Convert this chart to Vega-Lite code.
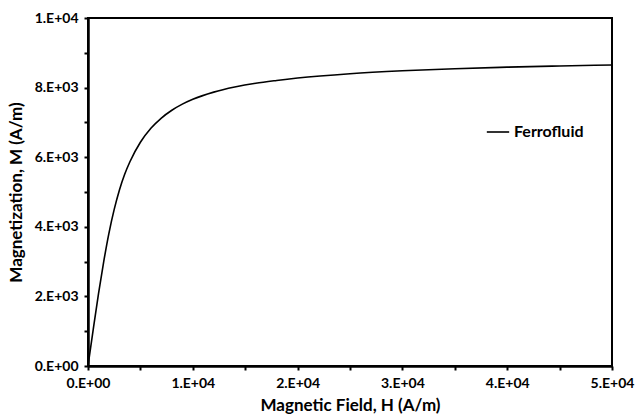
{
  "$schema": "https://vega.github.io/schema/vega-lite/v6.json",
  "width": 524,
  "height": 348,
  "autosize": "none",
  "padding": {"left": 88, "top": 18, "right": 28, "bottom": 54},
  "background": "white",
  "data": {
    "values": [
      {"H": 0, "M": 0, "series": "Ferrofluid"},
      {"H": 250, "M": 529, "series": "Ferrofluid"},
      {"H": 500, "M": 1052, "series": "Ferrofluid"},
      {"H": 1000, "M": 2070, "series": "Ferrofluid"},
      {"H": 1500, "M": 3000, "series": "Ferrofluid"},
      {"H": 2000, "M": 3820, "series": "Ferrofluid"},
      {"H": 2500, "M": 4500, "series": "Ferrofluid"},
      {"H": 3000, "M": 5060, "series": "Ferrofluid"},
      {"H": 3500, "M": 5510, "series": "Ferrofluid"},
      {"H": 4000, "M": 5870, "series": "Ferrofluid"},
      {"H": 5000, "M": 6430, "series": "Ferrofluid"},
      {"H": 6000, "M": 6830, "series": "Ferrofluid"},
      {"H": 7000, "M": 7125, "series": "Ferrofluid"},
      {"H": 8000, "M": 7350, "series": "Ferrofluid"},
      {"H": 9000, "M": 7525, "series": "Ferrofluid"},
      {"H": 10000, "M": 7665, "series": "Ferrofluid"},
      {"H": 12000, "M": 7870, "series": "Ferrofluid"},
      {"H": 14000, "M": 8015, "series": "Ferrofluid"},
      {"H": 16000, "M": 8125, "series": "Ferrofluid"},
      {"H": 18000, "M": 8206, "series": "Ferrofluid"},
      {"H": 20000, "M": 8276, "series": "Ferrofluid"},
      {"H": 25000, "M": 8400, "series": "Ferrofluid"},
      {"H": 30000, "M": 8483, "series": "Ferrofluid"},
      {"H": 35000, "M": 8543, "series": "Ferrofluid"},
      {"H": 40000, "M": 8587, "series": "Ferrofluid"},
      {"H": 45000, "M": 8622, "series": "Ferrofluid"},
      {"H": 50000, "M": 8650, "series": "Ferrofluid"}
    ]
  },
  "mark": {"type": "line", "strokeWidth": 1.6, "interpolate": "monotone"},
  "encoding": {
    "x": {
      "field": "H",
      "type": "quantitative",
      "scale": {"domain": [0, 50000], "nice": false},
      "axis": {
        "title": "Magnetic Field, H (A/m)",
        "values": [0, 5000, 10000, 15000, 20000, 25000, 30000, 35000, 40000, 45000, 50000],
        "labelExpr": "datum.value % 10000 != 0 ? '' : datum.value == 0 ? '0.E+00' : (datum.value / 10000) + '.E+04'",
        "labelFlush": false,
        "titlePadding": 7
      }
    },
    "y": {
      "field": "M",
      "type": "quantitative",
      "scale": {"domain": [0, 10000], "nice": false},
      "axis": {
        "title": "Magnetization, M (A/m)",
        "values": [0, 1000, 2000, 3000, 4000, 5000, 6000, 7000, 8000, 9000, 10000],
        "labelExpr": "datum.value % 2000 != 0 ? '' : datum.value == 0 ? '0.E+00' : datum.value == 10000 ? '1.E+04' : (datum.value / 1000) + '.E+03'",
        "labelFlush": false,
        "titlePadding": 9
      }
    },
    "color": {
      "field": "series",
      "type": "nominal",
      "scale": {"range": ["black"]},
      "legend": {
        "title": null,
        "orient": "none",
        "legendX": 398,
        "legendY": 102,
        "symbolType": "stroke",
        "symbolSize": 500,
        "symbolStrokeWidth": 1.6,
        "labelFontSize": 16,
        "labelFont": "Lato",
        "labelFontWeight": "bold",
        "labelColor": "black",
        "labelOffset": 4
      }
    }
  },
  "config": {
    "view": {"stroke": "black", "strokeWidth": 2},
    "axis": {
      "grid": false,
      "domainColor": "black",
      "domainWidth": 2.5,
      "tickColor": "black",
      "tickWidth": 2,
      "tickSize": 4,
      "labelFont": "Lato",
      "labelFontSize": 14,
      "labelFontWeight": "bold",
      "labelColor": "black",
      "labelPadding": 6,
      "titleFont": "Lato",
      "titleFontSize": 17,
      "titleFontWeight": "bold",
      "titleColor": "black"
    }
  }
}
